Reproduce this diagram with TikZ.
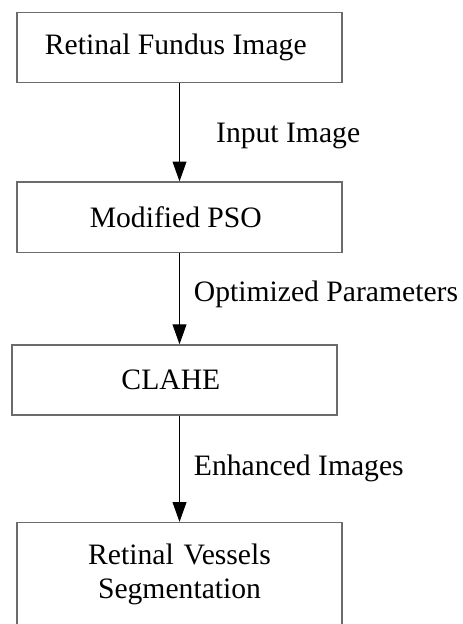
\documentclass[tikz,border=0pt]{standalone}
\usepackage{fontspec}
\setmainfont{Liberation Serif}
\usepackage{tikz}
\usetikzlibrary{matrix,arrows.meta}

\begin{document}
\begin{tikzpicture}[font=\fontsize{12}{13.4}\selectfont,
  >={Triangle[length=8pt,width=5.6pt]}]
  \useasboundingbox (0,0) rectangle (187.5pt,-252.7pt);
  \clip (0,0) rectangle (187.5pt,-252.7pt);
  \matrix (m) [matrix of nodes, anchor=north, inner sep=0pt, row sep=37pt,
    nodes={draw=black!58, line width=0.55pt, minimum width=131.6pt, minimum height=28.4pt, align=center}]
  at (71.7pt,-4.5pt)
  {
Retinal Fundus Image \\[2.8pt]
Modified PSO \\
|[xshift=-2pt]| CLAHE \\[6pt]
|[minimum height=42pt, text width=95pt]| Retinal Vessels Segmentation \\
};
  \path[->, line width=0.4pt]
  (m-1-1) edge node [right=11.3pt, yshift=-1.5pt] {Input Image} (m-2-1)
  (m-2-1) edge node [right=2.3pt, yshift=1.7pt] {Optimized Parameters} (m-2-1 |- m-3-1.north)
  (m-3-1.south -| m-4-1) edge node [right=2.3pt] {Enhanced Images} (m-4-1)
  ;
\end{tikzpicture}
\end{document}
